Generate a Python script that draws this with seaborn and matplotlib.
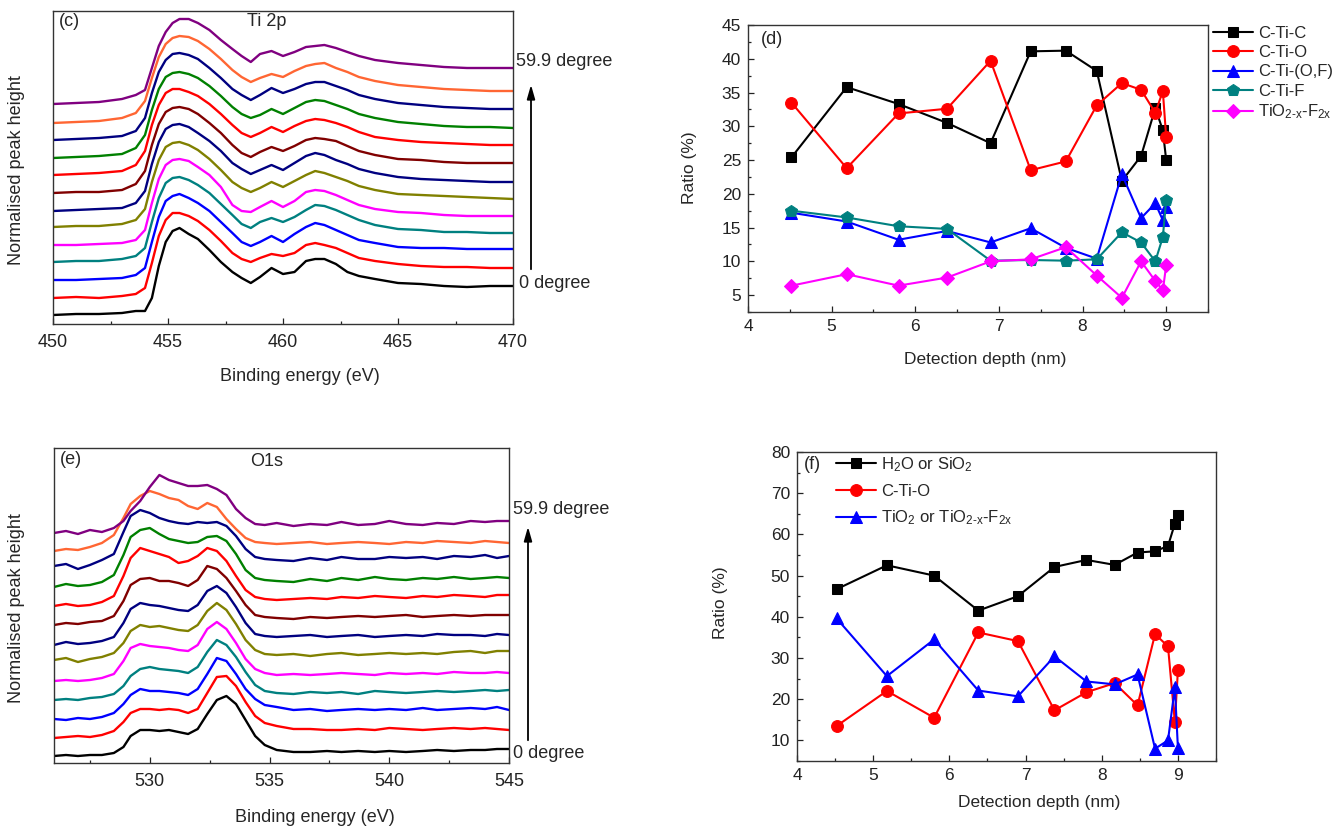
import numpy as np
import matplotlib
matplotlib.use("Agg")
import matplotlib.pyplot as plt
import seaborn as sns
from matplotlib.ticker import MultipleLocator, NullLocator

# ------------------------------------------------------------------ data
# Ti 2p spectra (panel c): energies and per-curve profiles (height above own baseline)
ti_energy = [450, 451, 452, 453, 453.6, 454.0, 454.3, 454.6, 454.9, 455.2, 455.5, 455.9,
             456.3, 456.8, 457.3, 457.8, 458.2, 458.6, 459.0, 459.5, 460.0, 460.5, 461.0,
             461.4, 461.8, 462.3, 462.8, 463.3, 464.0, 465.0, 466.0, 467.0, 468.0, 469.0, 470.0]
ti_offsets = [9, 26, 44, 62, 79, 97, 113, 131, 149, 166, 184, 201, 220]
ti_profiles = [
    [0, 1, 1, 2, 4, 4, 17, 49, 73, 84, 87, 81, 76, 65, 53, 43, 37, 32, 38, 47, 41, 43, 54, 56, 56, 51, 43, 39, 36, 32, 31, 29, 28, 29, 29],
    [0, 1, 0, 2, 4, 10, 35, 62, 78, 85, 85, 82, 77, 68, 57, 45, 39, 36, 40, 44, 42, 45, 53, 55, 53, 50, 45, 40, 37, 34, 32, 31, 31, 30, 30],
    [0, 0, 1, 2, 5, 12, 38, 63, 79, 84, 86, 82, 77, 69, 58, 47, 38, 34, 38, 44, 38, 46, 53, 57, 55, 50, 45, 40, 37, 33, 32, 32, 31, 31, 31],
    [0, 1, 1, 3, 6, 14, 40, 64, 79, 84, 85, 82, 77, 69, 58, 47, 38, 34, 40, 44, 40, 45, 52, 57, 56, 52, 47, 42, 37, 33, 32, 30, 30, 29, 29],
    [0, 0, 1, 2, 5, 15, 42, 66, 80, 85, 86, 84, 78, 70, 58, 40, 34, 33, 38, 44, 38, 44, 53, 55, 54, 50, 45, 40, 36, 33, 32, 30, 29, 29, 29],
    [0, 1, 1, 3, 7, 18, 45, 67, 80, 84, 85, 82, 77, 68, 57, 45, 39, 35, 39, 45, 40, 46, 52, 56, 54, 50, 46, 41, 37, 33, 32, 31, 30, 29, 28],
    [0, 1, 2, 3, 8, 20, 47, 69, 82, 86, 87, 84, 78, 70, 60, 48, 42, 37, 41, 46, 41, 48, 55, 58, 56, 51, 47, 42, 38, 34, 32, 31, 30, 29, 29],
    [0, 1, 1, 3, 9, 22, 48, 69, 81, 85, 86, 84, 79, 70, 60, 48, 40, 36, 41, 46, 42, 47, 53, 55, 54, 52, 47, 42, 38, 34, 33, 31, 30, 30, 30],
    [0, 1, 2, 4, 10, 24, 50, 70, 82, 86, 86, 83, 79, 71, 61, 50, 42, 38, 42, 48, 43, 49, 54, 56, 55, 52, 48, 43, 38, 35, 33, 32, 31, 30, 30],
    [0, 1, 2, 4, 10, 23, 48, 69, 81, 85, 86, 84, 80, 72, 62, 51, 44, 40, 43, 49, 44, 50, 56, 58, 57, 53, 49, 44, 40, 36, 34, 32, 31, 31, 30],
    [0, 1, 2, 4, 9, 22, 47, 68, 80, 86, 87, 85, 81, 72, 62, 51, 45, 40, 45, 52, 47, 51, 56, 58, 58, 54, 50, 45, 41, 37, 35, 33, 32, 31, 31],
    [0, 1, 2, 5, 10, 22, 45, 66, 79, 85, 87, 86, 82, 74, 64, 53, 46, 41, 45, 49, 46, 52, 57, 59, 60, 55, 51, 46, 42, 38, 36, 34, 33, 32, 32],
    [0, 1, 2, 5, 9, 14, 36, 58, 72, 81, 85, 85, 81, 74, 64, 55, 48, 42, 50, 53, 48, 52, 57, 58, 59, 56, 52, 48, 44, 41, 39, 37, 36, 36, 36],
]

# O 1s spectra (panel e)
o_energy = [526, 526.5, 527, 527.5, 528, 528.5, 528.9, 529.2, 529.6, 530.0, 530.4, 530.8, 531.2,
            531.6, 532.0, 532.4, 532.8, 533.2, 533.6, 534.0, 534.4, 534.8, 535.3, 536, 536.7,
            537.4, 538, 538.7, 539.4, 540, 540.7, 541.4, 542, 542.7, 543.4, 544, 544.5, 545]
o_offsets = [7, 25, 44, 63, 82, 103, 118, 138, 157, 176, 197, 212, 230]
o_profiles = [
    [0, 1, 0, 1, 1, 3, 9, 20, 26, 26, 25, 26, 24, 22, 27, 42, 56, 60, 52, 36, 20, 11, 6, 4, 4, 5, 4, 5, 4, 5, 4, 5, 6, 5, 6, 6, 7, 7],
    [0, 1, 2, 1, 3, 7, 16, 25, 29, 29, 28, 29, 28, 25, 29, 45, 61, 62, 52, 36, 22, 15, 12, 9, 9, 8, 8, 9, 8, 10, 9, 8, 9, 10, 9, 10, 9, 8],
    [0, -1, 1, 0, 2, 6, 15, 24, 30, 28, 28, 27, 26, 24, 30, 45, 61, 58, 45, 30, 20, 14, 12, 9, 10, 8, 9, 10, 9, 10, 9, 11, 9, 10, 11, 10, 12, 9],
    [0, 1, 0, 2, 3, 6, 14, 24, 31, 33, 31, 30, 29, 27, 33, 48, 60, 55, 43, 28, 15, 9, 7, 6, 8, 7, 8, 6, 9, 8, 7, 8, 9, 8, 9, 10, 9, 10],
    [0, 1, 0, 1, 3, 7, 20, 33, 37, 35, 34, 33, 31, 30, 36, 52, 59, 52, 38, 22, 12, 8, 6, 7, 6, 7, 8, 7, 6, 8, 7, 8, 7, 9, 8, 8, 9, 8],
    [0, 2, -2, 1, 3, 7, 17, 29, 35, 33, 34, 32, 30, 29, 35, 49, 57, 50, 36, 20, 10, 6, 5, 6, 4, 6, 7, 5, 6, 7, 6, 7, 6, 8, 9, 7, 9, 9],
    [0, 3, 1, 2, 4, 8, 22, 36, 42, 40, 39, 37, 35, 34, 40, 54, 59, 52, 38, 22, 11, 9, 8, 9, 10, 8, 9, 10, 8, 9, 10, 9, 11, 10, 10, 9, 11, 10],
    [0, 2, 1, 3, 4, 9, 24, 40, 46, 47, 44, 44, 42, 39, 45, 59, 56, 47, 34, 20, 10, 8, 7, 6, 8, 7, 8, 9, 8, 9, 10, 8, 9, 10, 9, 10, 10, 10],
    [0, 2, 0, 1, 4, 10, 30, 48, 58, 55, 52, 49, 43, 45, 50, 58, 55, 45, 30, 16, 9, 7, 6, 7, 8, 7, 9, 8, 10, 9, 8, 10, 9, 11, 10, 9, 11, 11],
    [0, 3, 1, 2, 5, 12, 32, 50, 57, 59, 53, 48, 46, 44, 45, 50, 51, 46, 33, 17, 9, 7, 6, 5, 8, 6, 9, 7, 10, 8, 7, 9, 8, 10, 8, 9, 10, 9],
    [0, 2, -3, 1, 6, 12, 34, 50, 56, 53, 48, 45, 43, 42, 44, 43, 44, 40, 30, 17, 9, 7, 6, 5, 8, 6, 9, 7, 7, 9, 8, 9, 7, 10, 9, 11, 8, 10],
    [0, 2, 1, 4, 8, 16, 33, 47, 55, 60, 57, 53, 51, 45, 42, 48, 44, 32, 22, 13, 9, 8, 7, 8, 9, 7, 8, 9, 8, 7, 9, 8, 10, 9, 8, 10, 9, 8],
    [0, 2, -1, 3, 1, 5, 12, 22, 32, 46, 58, 53, 50, 47, 47, 48, 44, 38, 24, 15, 9, 8, 10, 7, 9, 8, 11, 8, 9, 12, 9, 8, 10, 9, 12, 11, 12, 12],
]
curve_colors = ["#000000", "#FF0000", "#0000FF", "#008080", "#FF00FF", "#808000", "#000080",
                "#800000", "#FF0000", "#008000", "#000080", "#FF6633", "#800080"]

# Ratio data (panels d, f)
depth = [4.52, 5.18, 5.80, 6.38, 6.90, 7.38, 7.80, 8.17, 8.47, 8.70, 8.87, 8.96, 9.00]
d_c_ti_c = [25.4, 35.8, 33.3, 30.5, 27.5, 41.1, 41.2, 38.2, 21.9, 25.6, 32.7, 29.4, 25.0]
d_c_ti_o = [33.5, 23.8, 31.9, 32.6, 39.7, 23.5, 24.8, 33.1, 36.4, 35.4, 32.0, 35.2, 28.4]
d_c_ti_of = [17.2, 15.9, 13.2, 14.5, 12.8, 14.9, 12.0, 10.4, 22.9, 16.4, 18.6, 16.1, 18.1]
d_c_ti_f = [17.5, 16.5, 15.2, 14.8, 10.1, 10.2, 10.1, 10.3, 14.3, 12.8, 10.0, 13.6, 19.1]
d_tio2x = [6.4, 8.1, 6.4, 7.6, 10.0, 10.3, 12.1, 7.9, 4.6, 10.0, 7.1, 5.7, 9.4]
d_labels = ["C-Ti-C", "C-Ti-O", "C-Ti-(O,F)", "C-Ti-F",
            "TiO$_{\\mathregular{2\u2010x}}$-F$_{\\mathregular{2x}}$"]

f_h2o = [46.7, 52.5, 50.0, 41.5, 45.0, 52.1, 53.8, 52.6, 55.6, 55.9, 57.2, 62.6, 64.7]
f_c_ti_o = [13.5, 22.0, 15.5, 36.2, 34.1, 17.3, 21.7, 23.9, 18.5, 35.8, 32.8, 14.4, 27.0]
f_tio2 = [39.6, 25.6, 34.5, 22.1, 20.7, 30.4, 24.3, 23.6, 26.0, 8.0, 10.0, 22.9, 8.2]
f_labels = ["H$_{\\mathregular{2}}$O or SiO$_{\\mathregular{2}}$", "C-Ti-O",
            "TiO$_{\\mathregular{2}}$ or TiO$_{\\mathregular{2\u2010x}}$-F$_{\\mathregular{2x}}$"]

# ------------------------------------------------------------------ style
sns.set_theme(style="ticks")
plt.rcParams["font.family"] = ["Liberation Sans", "DejaVu Sans"]
plt.rcParams["mathtext.fontset"] = "custom"
plt.rcParams["mathtext.rm"] = "Liberation Sans"
plt.rcParams["mathtext.it"] = "Liberation Sans:italic"
plt.rcParams["mathtext.bf"] = "Liberation Sans:bold"
plt.rcParams["axes.linewidth"] = 1.0
plt.rcParams["axes.edgecolor"] = "#333333"

W, H = 1344, 831
fig = plt.figure(figsize=(W / 100, H / 100), dpi=100)
fig.patch.set_facecolor("white")


def axes_px(l, r, t, b):
    return fig.add_axes([l / W, 1 - b / H, (r - l) / W, (b - t) / H])


def fx(px):
    return px / W


def fy(py):
    return 1 - py / H


def style_axes(ax, fs):
    for s in ax.spines.values():
        s.set_linewidth(1.0)
        s.set_color("#333333")
    ax.tick_params(axis="both", which="both", direction="in", labelsize=fs,
                   colors="#222222", top=False, right=False)
    ax.tick_params(axis="both", which="major", length=4.5, width=0.9, pad=5)
    ax.tick_params(axis="both", which="minor", length=2.5, width=0.9)


# ------------------------------------------------------------------ panel (c)
axc = axes_px(53, 513, 11, 324)
for prof, off, col in zip(ti_profiles, ti_offsets, curve_colors):
    sns.lineplot(x=ti_energy, y=np.add(prof, off), ax=axc, color=col, lw=1.7,
                 estimator=None, sort=False, legend=False)
axc.set_xlim(450, 470)
axc.set_ylim(0, 313)
axc.xaxis.set_major_locator(MultipleLocator(5))
axc.xaxis.set_minor_locator(MultipleLocator(2.5))
axc.yaxis.set_major_locator(NullLocator())
axc.set_xlabel("")
axc.set_ylabel("")
style_axes(axc, 13)
axc.tick_params(axis="x", pad=7)
fig.text(fx(69), fy(22), "(c)", fontsize=13, ha="center", va="center")
fig.text(fx(267), fy(22), "Ti 2p", fontsize=13, ha="center", va="center")
fig.text(fx(516), fy(62), "59.9 degree", fontsize=13, ha="left", va="center")
fig.text(fx(519), fy(283), "0 degree", fontsize=13, ha="left", va="center")
axc.annotate("", xy=(fx(531), fy(82)), xytext=(fx(531), fy(272)),
             xycoords="figure fraction", textcoords="figure fraction",
             arrowprops=dict(arrowstyle="-|>,head_length=0.7,head_width=0.2",
                             color="black", lw=1.3), annotation_clip=False)
fig.text(fx(300), fy(377), "Binding energy (eV)", fontsize=13, ha="center", va="center")
fig.text(fx(17), fy(170), "Normalised peak height", fontsize=13, ha="center",
         va="center", rotation=90)

# ------------------------------------------------------------------ panel (e)
axe = axes_px(54, 509, 448, 763)
for prof, off, col in zip(o_profiles, o_offsets, curve_colors):
    sns.lineplot(x=o_energy, y=np.add(prof, off), ax=axe, color=col, lw=1.7,
                 estimator=None, sort=False, legend=False)
axe.set_xlim(526, 545)
axe.set_ylim(0, 315)
axe.xaxis.set_major_locator(MultipleLocator(5))
axe.xaxis.set_minor_locator(MultipleLocator(2.5))
axe.yaxis.set_major_locator(NullLocator())
axe.set_xlabel("")
axe.set_ylabel("")
style_axes(axe, 13)
axe.tick_params(axis="x", pad=7)
fig.text(fx(71), fy(460), "(e)", fontsize=13, ha="center", va="center")
fig.text(fx(267), fy(461), "O1s", fontsize=13, ha="center", va="center")
fig.text(fx(513), fy(510), "59.9 degree", fontsize=13, ha="left", va="center")
fig.text(fx(513), fy(753), "0 degree", fontsize=13, ha="left", va="center")
axe.annotate("", xy=(fx(528), fy(524)), xytext=(fx(528), fy(743)),
             xycoords="figure fraction", textcoords="figure fraction",
             arrowprops=dict(arrowstyle="-|>,head_length=0.7,head_width=0.2",
                             color="black", lw=1.3), annotation_clip=False)
fig.text(fx(315), fy(817), "Binding energy (eV)", fontsize=13, ha="center", va="center")
fig.text(fx(17), fy(608), "Normalised peak height", fontsize=13, ha="center",
         va="center", rotation=90)

# ------------------------------------------------------------------ panel (d)
axd = axes_px(748, 1208, 25, 312)
d_series = [d_c_ti_c, d_c_ti_o, d_c_ti_of, d_c_ti_f, d_tio2x]
d_colors = ["#000000", "#FF0000", "#0000FF", "#008080", "#FF00FF"]
d_markers = ["s", "o", "^", "p", "D"]
d_msize = [7.5, 8.5, 9, 9, 7.5]
for ys, col, mk, ms in zip(d_series, d_colors, d_markers, d_msize):
    sns.lineplot(x=depth, y=ys, ax=axd, color=col, marker=mk, markersize=ms,
                 markeredgecolor=col, markerfacecolor=col, lw=1.5,
                 estimator=None, sort=False, legend=False)
axd.set_xlim(4, 9.5)
axd.set_ylim(2.5, 45)
axd.xaxis.set_major_locator(MultipleLocator(1))
axd.xaxis.set_minor_locator(MultipleLocator(0.5))
axd.yaxis.set_major_locator(MultipleLocator(5))
axd.yaxis.set_minor_locator(MultipleLocator(2.5))
axd.set_xlabel("")
axd.set_ylabel("")
style_axes(axd, 12.5)
axd.set_yticks([5, 10, 15, 20, 25, 30, 35, 40, 45])
fig.text(fx(772), fy(39), "(d)", fontsize=13, ha="center", va="center")
fig.text(fx(985), fy(359), "Detection depth (nm)", fontsize=12.5, ha="center", va="center")
fig.text(fx(690), fy(168), "Ratio (%)", fontsize=12.5, ha="center", va="center", rotation=90)
fig.legend(handles=list(axd.lines), labels=d_labels, loc="upper left",
           bbox_to_anchor=(fx(1213), fy(26)), bbox_transform=fig.transFigure,
           frameon=False, fontsize=12, handlelength=2.4, handletextpad=0.3,
           labelspacing=0.25, borderpad=0, borderaxespad=0)

# ------------------------------------------------------------------ panel (f)
axf = axes_px(797, 1216, 452, 761)
f_series = [f_h2o, f_c_ti_o, f_tio2]
f_colors = ["#000000", "#FF0000", "#0000FF"]
f_markers = ["s", "o", "^"]
f_msize = [7.5, 8.5, 9]
for ys, col, mk, ms in zip(f_series, f_colors, f_markers, f_msize):
    sns.lineplot(x=depth, y=ys, ax=axf, color=col, marker=mk, markersize=ms,
                 markeredgecolor=col, markerfacecolor=col, lw=1.5,
                 estimator=None, sort=False, legend=False)
axf.set_xlim(4, 9.5)
axf.set_ylim(5, 80)
axf.xaxis.set_major_locator(MultipleLocator(1))
axf.xaxis.set_minor_locator(MultipleLocator(0.5))
axf.yaxis.set_major_locator(MultipleLocator(10))
axf.yaxis.set_minor_locator(MultipleLocator(5))
axf.set_xlabel("")
axf.set_ylabel("")
style_axes(axf, 12.5)
axf.set_yticks([10, 20, 30, 40, 50, 60, 70, 80])
fig.text(fx(812), fy(465), "(f)", fontsize=13, ha="center", va="center")
fig.text(fx(1039), fy(802), "Detection depth (nm)", fontsize=12.5, ha="center", va="center")
fig.text(fx(720), fy(603), "Ratio (%)", fontsize=12.5, ha="center", va="center", rotation=90)
fig.legend(handles=list(axf.lines), labels=f_labels, loc="upper left",
           bbox_to_anchor=(fx(836), fy(455)), bbox_transform=fig.transFigure,
           frameon=False, fontsize=12, handlelength=2.4, handletextpad=0.3,
           labelspacing=0.6, borderpad=0, borderaxespad=0)

fig.savefig("out.png", dpi=100, facecolor="white")
